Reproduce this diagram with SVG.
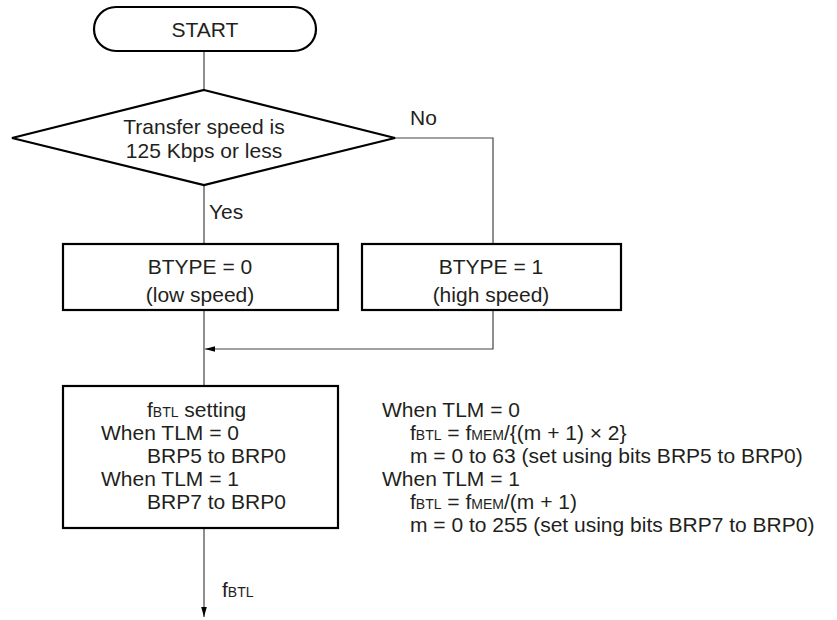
<svg xmlns="http://www.w3.org/2000/svg" width="837" height="620" viewBox="0 0 837 620">
<style>
text{font-family:"Liberation Sans",Arial,sans-serif;font-size:21px;fill:#231f20}
.c{text-anchor:middle}
.sub{font-size:14px}
.node{fill:#fff;stroke:#000;stroke-width:2.2}
.conn{fill:none;stroke:#444;stroke-width:1.2}
</style>
<defs>
<marker id="ah" viewBox="0 0 10 10" refX="10" refY="5" markerWidth="12" markerHeight="10" markerUnits="userSpaceOnUse" orient="auto">
<path d="M0,2.2 L10,5 L0,7.8 Z" fill="#000"/>
</marker>
</defs>
<g id="connectors">
<line class="conn" x1="204" y1="51" x2="204" y2="90"/>
<line class="conn" x1="204" y1="185" x2="204" y2="244"/>
<polyline class="conn" points="395,138 493,138 493,244"/>
<polyline class="conn" points="493,310 493,349 205,349" marker-end="url(#ah)"/>
<line class="conn" x1="204" y1="310" x2="204" y2="386"/>
<line class="conn" x1="204" y1="528" x2="204" y2="617" marker-end="url(#ah)"/>
<text x="410" y="125">No</text>
<text x="209" y="219">Yes</text>
<text x="222" y="597">f<tspan class="sub">BTL</tspan></text>
</g>
<g id="start">
<rect class="node" x="94" y="7" width="222" height="44" rx="22" stroke-width="1.6"/>
<text class="c" x="205" y="37">START</text>
</g>
<g id="decision">
<polygon class="node" points="204,90 395,138 204,185 12,138"/>
<text class="c" x="204" y="134">Transfer speed is</text>
<text class="c" x="204" y="158">125 Kbps or less</text>
</g>
<g id="btype0">
<rect class="node" x="63" y="244" width="275" height="66"/>
<text class="c" x="200" y="274">BTYPE = 0</text>
<text class="c" x="200" y="302">(low speed)</text>
</g>
<g id="btype1">
<rect class="node" x="362" y="244" width="259" height="66"/>
<text class="c" x="491" y="274">BTYPE = 1</text>
<text class="c" x="491" y="302">(high speed)</text>
</g>
<g id="fbtl">
<rect class="node" x="63" y="386" width="275" height="142"/>
<text x="147" y="417">f<tspan class="sub">BTL</tspan> setting</text>
<text x="101" y="440">When TLM = 0</text>
<text x="147" y="463">BRP5 to BRP0</text>
<text x="101" y="486">When TLM = 1</text>
<text x="147" y="509">BRP7 to BRP0</text>
</g>
<g id="note">
<text x="382" y="417">When TLM = 0</text>
<text x="410" y="440">f<tspan class="sub">BTL</tspan> = f<tspan class="sub">MEM</tspan>/{(m + 1) × 2}</text>
<text x="410" y="463">m = 0 to 63 (set using bits BRP5 to BRP0)</text>
<text x="382" y="486">When TLM = 1</text>
<text x="410" y="509">f<tspan class="sub">BTL</tspan> = f<tspan class="sub">MEM</tspan>/(m + 1)</text>
<text x="410" y="532">m = 0 to 255 (set using bits BRP7 to BRP0)</text>
</g>
</svg>
